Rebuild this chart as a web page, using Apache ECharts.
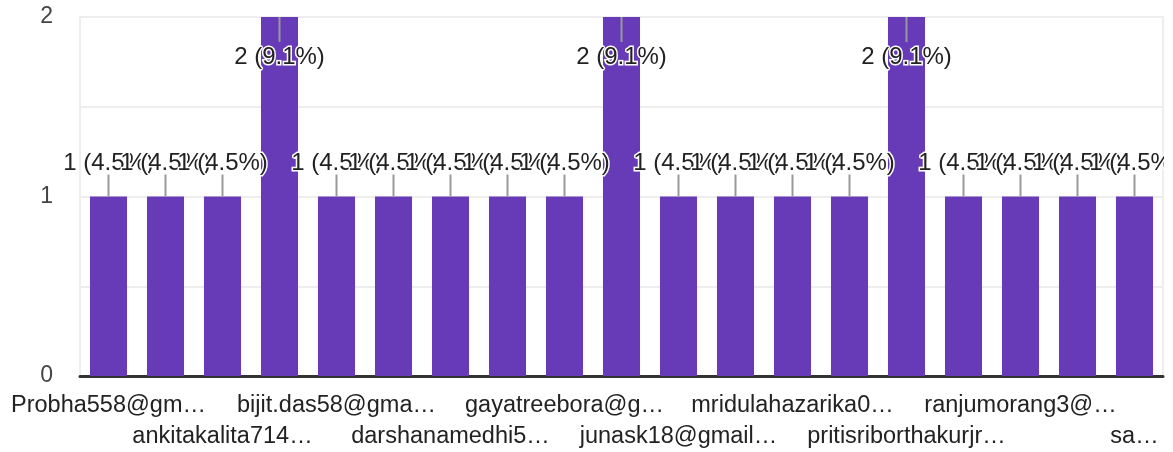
<!DOCTYPE html>
<html><head><meta charset="utf-8">
<script src="https://cdn.jsdelivr.net/npm/echarts@6/dist/echarts.min.js"></script>
<style>html,body{margin:0;padding:0;background:#fff}#c{width:1173px;height:452px}</style>
</head><body><div id="c"></div>
<script>
const categories = [
  "Probha558@gm…", "(hidden 1)", "ankitakalita714…", "(hidden 3)", "bijit.das58@gma…",
  "(hidden 5)", "darshanamedhi5…", "(hidden 7)", "gayatreebora@g…", "(hidden 9)",
  "junask18@gmail…", "(hidden 11)", "mridulahazarika0…", "(hidden 13)", "pritisriborthakurjr…",
  "(hidden 15)", "ranjumorang3@…", "(hidden 17)", "sa…"
];
const counts = [1, 1, 1, 2, 1, 1, 1, 1, 1, 2, 1, 1, 1, 1, 2, 1, 1, 1, 1];
const yTicks = [0, 1, 2];

const FONT = '"Liberation Sans", Arial, sans-serif';
const total = counts.reduce((a, b) => a + b, 0);
const yMax = 2;

function xLabel(row) {
  return {
    interval: function (i) { return i % 4 === row * 2; },
    showMinLabel: true,
    showMaxLabel: true,
    hideOverlap: false,
    margin: 18,
    color: '#222222',
    fontSize: 23.5,
    fontFamily: FONT
  };
}

const chart = echarts.init(document.getElementById('c'), null, {renderer: 'canvas'});
chart.setOption({
  animation: false,
  grid: {left: 80, right: 10, top: 17, bottom: 76, show: true, borderColor: '#eeeeee', borderWidth: 2, backgroundColor: 'transparent'},
  xAxis: [
    {
      type: 'category',
      data: categories,
      position: 'bottom',
      axisTick: {show: false},
      axisLine: {lineStyle: {color: '#333333', width: 3}},
      axisLabel: xLabel(0)
    },
    {
      type: 'category',
      data: categories,
      position: 'bottom',
      offset: 31,
      axisTick: {show: false},
      axisLine: {show: false},
      axisLabel: xLabel(1)
    }
  ],
  yAxis: {
    type: 'value',
    min: 0, max: yMax, interval: 0.5,
    axisLine: {show: false},
    axisTick: {show: false},
    axisLabel: {
      color: '#444444', fontSize: 23, fontFamily: FONT, margin: 27,
      padding: [6, 0, 0, 0],
      formatter: function (v) { return yTicks.indexOf(v) >= 0 ? String(v) : ''; }
    },
    splitLine: {lineStyle: {color: '#eeeeee', width: 2}}
  },
  series: [
    {
      type: 'bar',
      xAxisIndex: 0,
      data: counts,
      barCategoryGap: '35%',
      itemStyle: {color: '#673ab7'},
      z: 2
    },
    {
      type: 'custom',
      xAxisIndex: 0,
      coordinateSystem: 'cartesian2d',
      data: counts.map((v, i) => [i, v]),
      z: 5,
      silent: true,
      clip: false,
      renderItem: function (params, api) {
        const i = api.value(0), v = api.value(1);
        const p = api.coord([i, v]);
        const topY = api.coord([i, yMax])[1];
        const cs = params.coordSys;
        const atTop = (p[1] - topY) < 30;
        const y2 = atTop ? p[1] + 25 : p[1] - 22;
        const ty = atTop ? p[1] + 40 : p[1] - 33;
        const pct = (v / total * 100).toFixed(1);
        return {
          type: 'group',
          clipPath: {type: 'rect', shape: {x: 0, y: 0, width: cs.x + cs.width + 1, height: cs.y + cs.height}},
          children: [
            {type: 'line', shape: {x1: p[0], y1: p[1], x2: p[0], y2: y2}, style: {stroke: '#999999', lineWidth: 2}},
            {type: 'text', x: p[0], y: ty, style: {
              text: v + ' (' + pct + '%)', align: 'center', verticalAlign: 'middle',
              fontSize: 24, fontFamily: FONT, fill: '#222222', stroke: '#ffffff', lineWidth: 3
            }}
          ]
        };
      }
    }
  ]
});
</script></body></html>
